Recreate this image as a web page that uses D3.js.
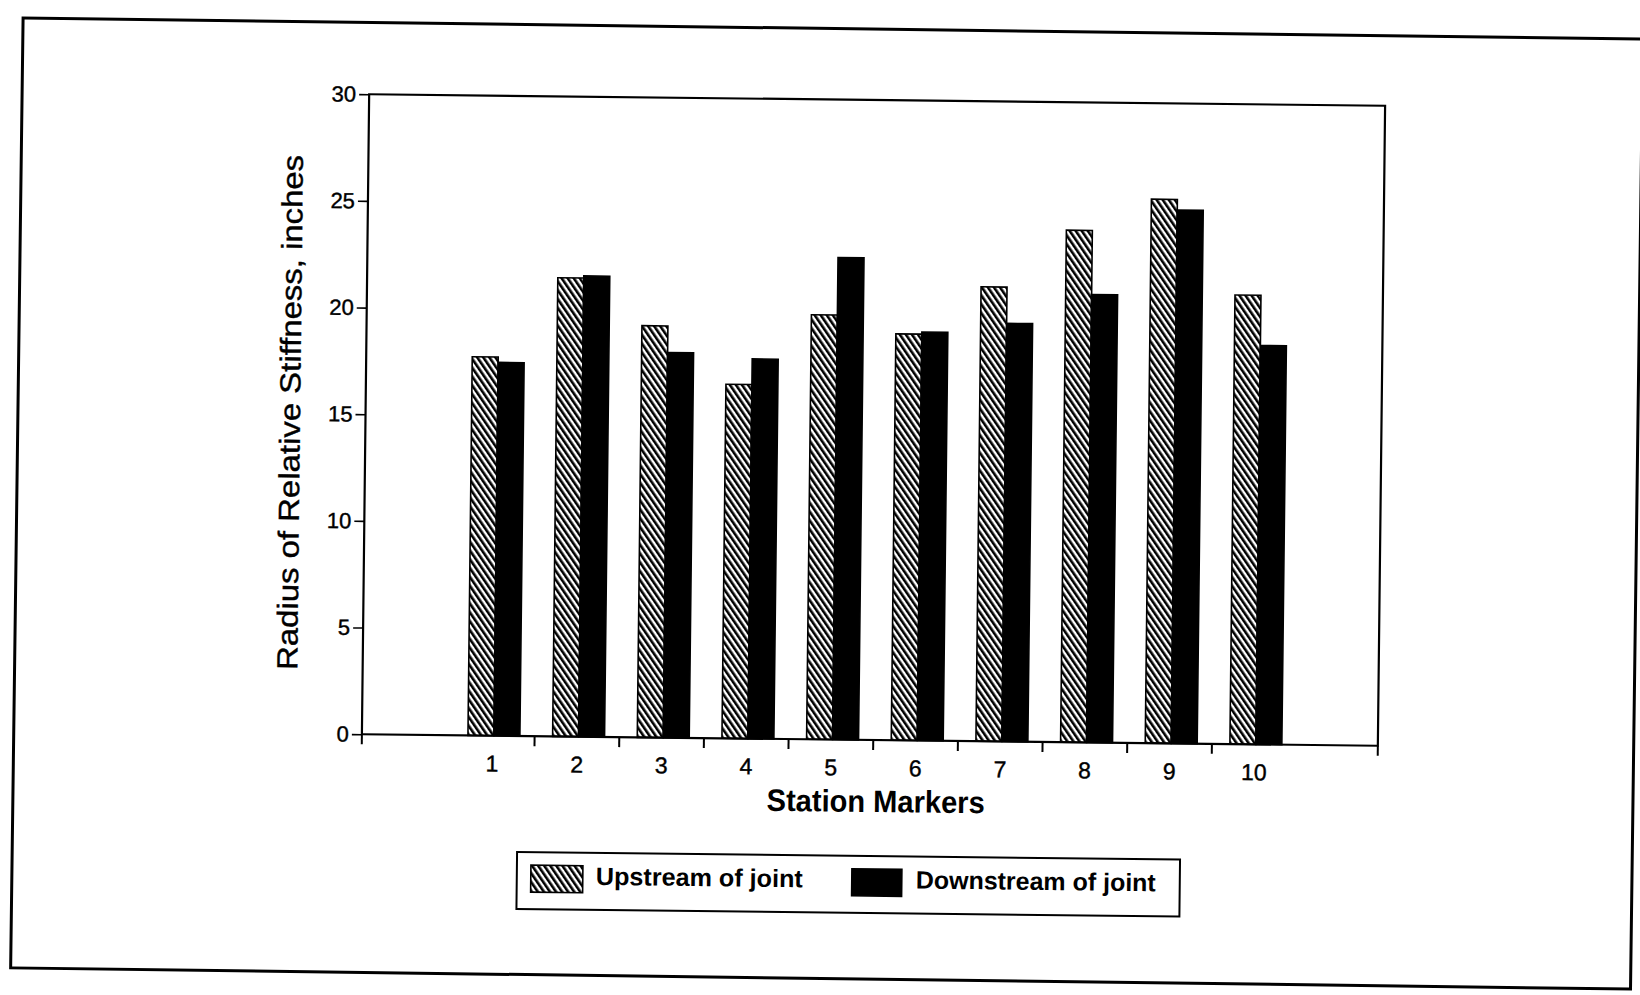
<!DOCTYPE html>
<html><head><meta charset="utf-8">
<script src="https://cdn.jsdelivr.net/npm/d3@7"></script>
<style>
body{margin:0;background:#fff;}
svg{display:block;}
text{font-family:"Liberation Sans",Arial,Helvetica,sans-serif;fill:#000;}
</style>
</head><body>
<script>
// ---- data ----
const stations = ["1","2","3","4","5","6","7","8","9","10"];
const seriesNames = ["Upstream of joint","Downstream of joint"];
const upstream   = [17.75, 21.5, 19.3, 16.6, 19.9, 19.05, 21.3, 24.0, 25.5, 21.05];
const downstream = [17.5, 21.6, 18.05, 17.8, 22.6, 19.15, 19.6, 21.0, 25.0, 18.7];
const yTicks = [0, 5, 10, 15, 20, 25, 30];
const xTitle = "Station Markers";
const yTitle = "Radius of Relative Stiffness, inches";

// ---- layout ----
const W = 1640, H = 995;
const m = {left: 365.5, top: 100, right: 1381.5, bottom: 740};
const FONT = '"Liberation Sans", Arial, Helvetica, sans-serif';

const svg = d3.select("body").append("svg").attr("width", W).attr("height", H);
svg.append("rect").attr("width", W).attr("height", H).attr("fill", "#fff");

const defs = svg.append("defs");
const pat = defs.append("pattern").attr("id", "hatch")
  .attr("patternUnits", "userSpaceOnUse").attr("width", 5).attr("height", 5)
  .attr("patternTransform", "rotate(-35)");
pat.append("rect").attr("width", 5).attr("height", 5).attr("fill", "#fff");
pat.append("rect").attr("width", 2.6).attr("height", 5).attr("fill", "#000");

// outer page border (scanned, slightly skewed)
svg.append("rect").attr("x", 826.8 - 810).attr("y", 503.5 - 475)
  .attr("width", 1620).attr("height", 950)
  .attr("transform", "rotate(0.75,826.8,503.5)")
  .attr("fill", "none").attr("stroke", "#000").attr("stroke-width", 3);

const g = svg.append("g").attr("transform", "rotate(0.65,873.5,420)");

const x = d3.scaleBand().domain(stations).range([m.left, m.right])
  .paddingInner(0).paddingOuter(1).align(0.52);
const x1 = d3.scaleBand().domain(seriesNames).range([0, x.bandwidth()])
  .paddingInner(0).paddingOuter(0.63).align(0.55);
const y = d3.scaleLinear().domain([0, 30]).range([m.bottom, m.top]);

const data = stations.map((s, i) => ({s, vals: [upstream[i], downstream[i]]}));

// bars
g.append("g").selectAll("g").data(data).join("g")
  .attr("transform", d => `translate(${x(d.s)},0)`)
  .selectAll("rect").data(d => d.vals.map((v, j) => ({k: seriesNames[j], v})))
  .join("rect")
  .attr("x", d => x1(d.k)).attr("width", x1.bandwidth())
  .attr("y", d => y(d.v)).attr("height", d => y(0) - y(d.v))
  .attr("fill", d => d.k === seriesNames[0] ? "url(#hatch)" : "#000")
  .attr("stroke", "#000").attr("stroke-width", 1.6);

// frame
g.append("rect").attr("x", m.left).attr("y", m.top)
  .attr("width", m.right - m.left).attr("height", m.bottom - m.top)
  .attr("fill", "none").attr("stroke", "#000").attr("stroke-width", 2.2);

// y axis
const yAxis = d3.axisLeft(y).tickValues(yTicks).tickSize(10).tickPadding(3).tickSizeOuter(0);
g.append("g").attr("transform", `translate(${m.left},0)`).call(yAxis)
  .attr("font-family", FONT).attr("font-size", 22)
  .call(a => a.select(".domain").remove())
  .call(a => a.selectAll("line").attr("stroke-width", 1.6))
  .call(a => a.selectAll("text").attr("fill", "#000").attr("stroke", "#000").attr("stroke-width", 0.4));

// x axis labels
const xAxis = d3.axisBottom(x).tickSize(0).tickPadding(19.5).tickSizeOuter(0);
g.append("g").attr("transform", `translate(0,${m.bottom})`).call(xAxis)
  .attr("font-family", FONT).attr("font-size", 23)
  .call(a => a.select(".domain").remove())
  .call(a => a.selectAll("text").attr("fill", "#000").attr("stroke", "#000").attr("stroke-width", 0.4));

// x ticks at category boundaries and frame ends
const bounds = [m.left, ...stations.slice(1).map(s => x(s)), m.right];
g.append("g").selectAll("line").data(bounds).join("line")
  .attr("x1", d => d).attr("x2", d => d)
  .attr("y1", m.bottom).attr("y2", m.bottom + 10)
  .attr("stroke", "#000").attr("stroke-width", 2);

// titles
g.append("text").attr("x", 880).attr("y", 812).attr("text-anchor", "middle")
  .attr("font-size", 31).attr("font-weight", "bold")
  .attr("textLength", 218).attr("lengthAdjust", "spacingAndGlyphs").text(xTitle);

g.append("text").attr("transform", "translate(300,419) rotate(-90)")
  .attr("text-anchor", "middle").attr("font-size", 29)
  .attr("stroke", "#000").attr("stroke-width", 0.4)
  .attr("textLength", 515).attr("lengthAdjust", "spacingAndGlyphs").text(yTitle);

// legend
const lg = g.append("g");
lg.append("rect").attr("x", 522).attr("y", 856).attr("width", 663).attr("height", 57)
  .attr("fill", "#fff").attr("stroke", "#000").attr("stroke-width", 2);
const legendItems = [
  {name: seriesNames[0], fill: "url(#hatch)", sx: 536, sw: 52, tx: 601, tl: 207},
  {name: seriesNames[1], fill: "#000", sx: 857, sw: 50, tx: 921, tl: 240}
];
legendItems.forEach(it => {
  lg.append("rect").attr("x", it.sx).attr("y", 869).attr("width", it.sw).attr("height", 27)
    .attr("fill", it.fill).attr("stroke", "#000").attr("stroke-width", 1.6);
  lg.append("text").attr("x", it.tx).attr("y", 888).attr("font-size", 25).attr("font-weight", "bold")
    .attr("textLength", it.tl).attr("lengthAdjust", "spacingAndGlyphs").text(it.name);
});
</script>
</body></html>
